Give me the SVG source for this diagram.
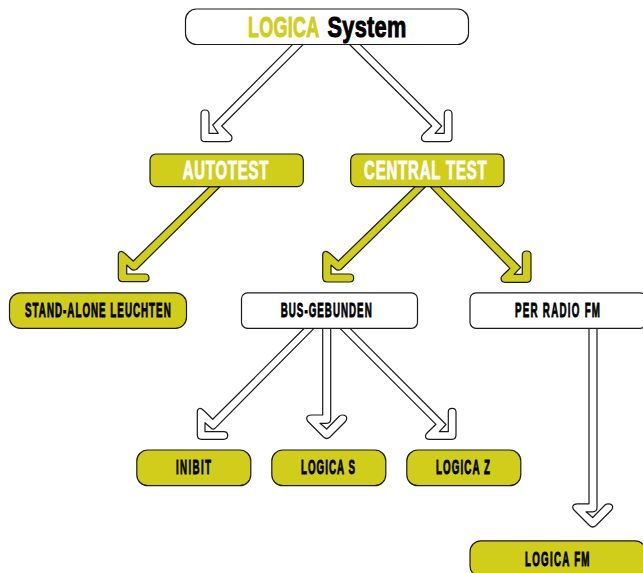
<svg xmlns="http://www.w3.org/2000/svg" width="643" height="573" viewBox="0 0 643 573">
<style>
.n{stroke:#1a1a1a;stroke-width:1.2}
.o{fill:#d0ce1a}
.w{fill:#fff}
.c{stroke:#1a1a1a;stroke-width:1.2;stroke-linejoin:round}
text{font-family:"Liberation Sans",sans-serif;font-weight:700}
.big{font-size:29px;stroke-width:1}
.mid{font-size:25px;fill:#fff;stroke:#fff;stroke-width:.9}
.sm{font-size:19.5px;fill:#000;stroke:#000;stroke-width:.9}
</style>
<rect width="643" height="573" fill="#fff"/>
<g id="connectors">
<path id="c1" class="c w" d="M292.7 44.3L212.7 125L218.3 133.3H209V114Q209 110 205 110Q201 110 201 114V138Q201 141.7 205 141.7H228Q232 141.7 232 137.5Q232 136 230 134.3L221.7 126L303.3 44.3Z"/>
<path id="c2" class="c w" d="M349.3 44.3L431.7 126L423 134.3Q421.5 136 421.5 137.5Q421.5 141.7 425.5 141.7H448Q452 141.7 452 138V114Q452 110 448 110Q444.3 110 444.3 114V133.3H435L441.7 126L360 44.3Z"/>
<path id="c3" class="c o" d="M209.5 186.7L133.3 261L125 253.5Q122 251 120.5 251.5Q118.3 252 118.3 255V277Q118.3 281.7 122.5 281.7H145Q149 281.7 149 278Q149 274 145 274H126.7V265L131 269Q133 271 136.5 269.5L220 186.7Z"/>
<path id="c4" class="c o" d="M415 186.7L338.3 261L330 253.5Q327 251 325 251.5Q322.7 252 322.7 255V277Q322.7 282 327 282H349.7Q353.7 282 353.7 278Q353.7 274 349.7 274H331V265L335.5 269Q337.5 271 341 269.5L425.5 186.7Z"/>
<path id="c5" class="c o" d="M430 186.7L510 268.3L503 275Q501 277 501 278Q501 282.3 505 282.3H527Q531 282.3 531 278V255Q531 251 526.7 251Q522.3 251 522.3 255V274.3H514L520.7 267.3L440 186.7Z"/>
<path id="c6" class="c w" d="M304.3 328.3L212.7 419.3L204 410.7Q201 408 199.5 408.5Q197.3 409 197.3 412V435Q197.3 439.3 201.5 439.3H223.7Q227.7 439.3 227.7 435.5Q227.7 431.7 223.7 431.7H205V422.7L211 428Q213 430 215 428.3L314 328.3Z"/>
<path id="c7" class="c w" d="M322.7 328.3V415H311.7Q306.7 415 306.7 418.5Q306.7 420 308 421.5L323.5 437Q326.7 440 330 437L345.5 421.5Q346.7 420 346.7 418.5Q346.7 415 342.3 415Q340.5 415 339 416.5L326.7 429L320 423.3H326.7Q330.7 423.3 330.7 419V328.3Z"/>
<path id="c8" class="c w" d="M340 328.3L436 424.3L427 433Q425.5 434.5 425.5 436Q425.5 439.3 429.5 439.3H452Q456 439.3 456 435V412Q456 408.3 452 408.3Q448.3 408.3 448.3 412V431.7H439.3L446 424.5L350 328.3Z"/>
<path id="c9" class="c w" d="M589 328.3V503.8H577.7Q572.7 503.8 572.7 507Q572.7 508.5 574 510L589.5 525.5Q592.7 528.5 596 525.5L611.5 510Q612.7 508.5 612.7 507Q612.7 503.8 608.3 503.8Q606.5 503.8 605 505L592.7 517.5L586 511.8H592.7Q597 511.8 597 507.5V328.3Z"/>
</g>
<g id="root"><rect class="n w" x="185.5" y="9" width="283" height="35.5" rx="11"/>
<text class="big" transform="translate(248 37) scale(.62 1)" textLength="115" lengthAdjust="spacing" fill="#d0ce1a" stroke="#d0ce1a">LOGICA</text>
<text class="big" transform="translate(327.5 37) scale(.75 1)" textLength="105" lengthAdjust="spacing" fill="#000" stroke="#000">System</text></g>
<g id="autotest"><rect class="n o" x="150" y="154" width="153.3" height="32.7" rx="6"/><text class="mid" transform="translate(182.7 179) scale(.6 1)" textLength="142.7" lengthAdjust="spacing">AUTOTEST</text></g>
<g id="central"><rect class="n o" x="350.7" y="154" width="153.3" height="32.7" rx="6"/><text class="mid" transform="translate(364 179) scale(.6 1)" textLength="204.5" lengthAdjust="spacing">CENTRAL TEST</text></g>
<g id="standalone"><rect class="n o" x="9.5" y="292.8" width="177" height="35.5" rx="11"/><text class="sm" transform="translate(25 317) scale(.5 1)" textLength="291.4" lengthAdjust="spacing">STAND-ALONE LEUCHTEN</text></g>
<g id="bus"><rect class="n w" x="241.5" y="292.8" width="176" height="35.5" rx="6"/><text class="sm" transform="translate(280.7 317) scale(.5 1)" textLength="182" lengthAdjust="spacing">BUS-GEBUNDEN</text></g>
<g id="radio"><rect class="n w" x="470" y="292.8" width="176" height="35.5" rx="6"/><text class="sm" transform="translate(515 317) scale(.5 1)" textLength="170" lengthAdjust="spacing">PER RADIO FM</text></g>
<g id="inibit"><rect class="n o" x="136.8" y="450" width="114" height="35.7" rx="11"/><text class="sm" transform="translate(176 474) scale(.5 1)" textLength="70" lengthAdjust="spacing">INIBIT</text></g>
<g id="logicas"><rect class="n o" x="271.8" y="450" width="114" height="35.7" rx="11"/><text class="sm" transform="translate(301 474) scale(.5 1)" textLength="108" lengthAdjust="spacing">LOGICA S</text></g>
<g id="logicaz"><rect class="n o" x="406.8" y="450" width="114" height="35.7" rx="11"/><text class="sm" transform="translate(436 474) scale(.5 1)" textLength="108" lengthAdjust="spacing">LOGICA Z</text></g>
<g id="logicafm"><rect class="n o" x="470" y="540.8" width="176" height="36" rx="11"/><text class="sm" transform="translate(525 565.5) scale(.5 1)" textLength="129" lengthAdjust="spacing">LOGICA FM</text></g>
</svg>
